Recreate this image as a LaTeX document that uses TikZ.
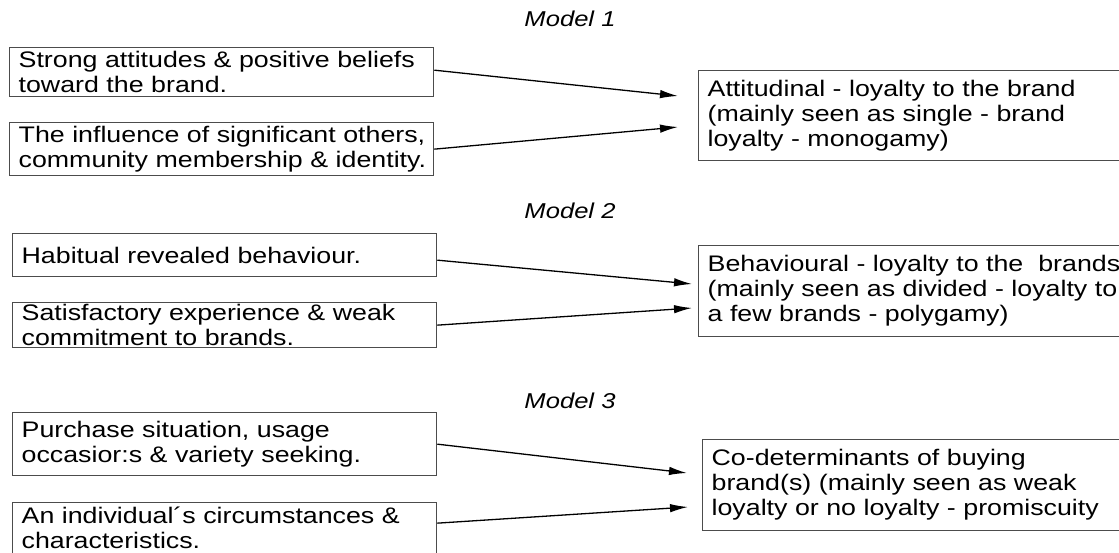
\documentclass[tikz,border=0pt]{standalone}
\usepackage{fontspec}
\newfontfamily\dfont{Liberation Sans}[FakeStretch=1.19]
\usetikzlibrary{arrows.meta,calc}
\begin{document}
\begin{tikzpicture}[x=1pt,y=-1pt,
  box/.style={draw=black!70, line width=1.3pt, anchor=north west, align=left,
    inner xsep=9pt, inner ysep=0pt, font=\dfont\fontsize{22.5}{25}\selectfont},
  lbox/.style={box, text width=406pt},
  rbox/.style={box, text width=480pt},
  conn/.style={line width=1.3pt, -{Latex[length=18pt,width=8.5pt]}},
  model/.style={font=\dfont\itshape\fontsize{21.5}{24}\selectfont}]
\useasboundingbox (0,0) rectangle (1119,552);
\clip (0,0) rectangle (1119,552);
\fill[white] (0,0) rectangle (1119,552);

% Model 1
\node[model] (m1) at (570,19) {Model 1};
\node[lbox, minimum height=49pt] (A1) at (9,47)
  {\mbox{Strong attitudes \& positive beliefs}\\\mbox{toward the brand.}};
\node[lbox, minimum height=53pt] (A2) at (9,122)
  {\mbox{The influence of significant others,}\\\mbox{community membership \& identity.}};
\node[rbox, minimum height=90pt] (R1) at (698,70)
  {Attitudinal - loyalty to the brand\\(mainly seen as single - brand\\loyalty - monogamy)};
\coordinate (t1a) at (678,96);
\coordinate (t1b) at (678,127);
\draw[conn] ($(A1.east)+(0,-2)$) -- (t1a);
\draw[conn] (A2.east) -- (t1b);

% Model 2
\node[model] (m2) at (570,211) {Model 2};
\node[lbox, minimum height=43pt] (B1) at (12,233)
  {\mbox{Habitual revealed behaviour.}};
\node[lbox, minimum height=45pt] (B2) at (12,302)
  {\mbox{Satisfactory experience \& weak}\\\mbox{commitment to brands.}};
\node[rbox, minimum height=91pt] (R2) at (698,245)
  {Behavioural - loyalty to the~ brands\\(mainly seen as divided - loyalty to\\a few brands - polygamy)};
\coordinate (t2a) at (692,284);
\coordinate (t2b) at (692,308);
\draw[conn] ($(B1.east)+(0,5)$) -- (t2a);
\draw[conn] (B2.east) -- (t2b);

% Model 3
\node[model] (m3) at (570,401) {Model 3};
\node[lbox, minimum height=63pt] (C1) at (12,412)
  {\mbox{Purchase situation, usage}\\\mbox{occasior:s \& variety seeking.}};
\node[lbox, minimum height=51pt] (C2) at (12,502)
  {\mbox{An individual´s circumstances \&}\\\mbox{characteristics.}};
\node[rbox, minimum height=91pt] (R3) at (702,439)
  {Co-determinants of buying\\brand(s) (mainly seen as weak\\loyalty or no loyalty - promiscuity};
\coordinate (t3a) at (687,473);
\coordinate (t3b) at (688,507);
\draw[conn] (C1.east) -- (t3a);
\draw[conn] ($(C2.east)+(0,-5)$) -- (t3b);
\end{tikzpicture}
\end{document}
